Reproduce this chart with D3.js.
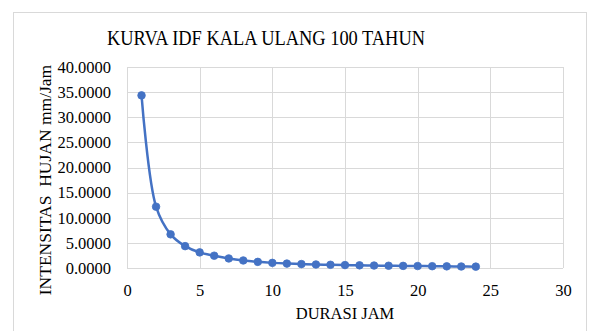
<!DOCTYPE html>
<html>
<head>
<meta charset="utf-8">
<script src="https://cdn.jsdelivr.net/npm/d3@7/dist/d3.min.js"></script>
<style>
  html, body { margin: 0; padding: 0; background: #fff; }
  svg { display: block; }
  text { font-family: "Liberation Serif", "Times New Roman", serif; fill: #000; }
</style>
</head>
<body>
<svg id="chart" width="589" height="331"></svg>
<script>
// Rainfall duration (hours) and intensity (mm/hour), 100-year return period
const durations = [1, 2, 3, 4, 5, 6, 7, 8, 9, 10, 11, 12, 13, 14, 15, 16, 17, 18, 19, 20, 21, 22, 23, 24];
const intensities = [34.35, 12.2, 6.7, 4.35, 3.1, 2.45, 1.9, 1.5, 1.22, 1.02, 0.88, 0.78,
                     0.70, 0.64, 0.58, 0.53, 0.49, 0.45, 0.42, 0.39, 0.36, 0.33, 0.30, 0.27];
const xTicks = [0, 5, 10, 15, 20, 25, 30];
const yTicks = [0, 5, 10, 15, 20, 25, 30, 35, 40];

const chartTitle = "KURVA IDF KALA ULANG 100 TAHUN";
const xTitle = "DURASI JAM";
const yTitle = "INTENSITAS\u00a0 HUJAN mm/Jam";

const serif = '"Liberation Serif", "Times New Roman", serif';
const svg = d3.select("#chart");
const plot = { left: 127, right: 563, top: 67, bottom: 268 };

// outer chart frame
svg.append("rect")
  .attr("x", 13.5).attr("y", 12.5)
  .attr("width", 573).attr("height", 330)
  .attr("fill", "#fff").attr("stroke", "#d9d9d9").attr("stroke-width", 1);

const x = d3.scaleLinear().domain([0, 30]).range([plot.left, plot.right]);
const y = d3.scaleLinear().domain([0, 40]).range([plot.bottom, plot.top]);

// gridlines
const grid = svg.append("g").attr("stroke", "#d9d9d9").attr("stroke-width", 1);
grid.selectAll("line.h").data(yTicks).join("line")
  .attr("x1", plot.left).attr("x2", plot.right)
  .attr("y1", d => Math.round(y(d)) + 0.5).attr("y2", d => Math.round(y(d)) + 0.5);
grid.selectAll("line.v").data(xTicks).join("line")
  .attr("y1", plot.top).attr("y2", plot.bottom)
  .attr("x1", d => Math.round(x(d)) + 0.5).attr("x2", d => Math.round(x(d)) + 0.5);

// axes (tick labels only; lines come from the grid)
const yAxis = d3.axisLeft(y).tickValues(yTicks).tickSize(0).tickPadding(16)
  .tickFormat(d => d3.format(".4f")(d));
svg.append("g").attr("transform", `translate(${plot.left},0)`).call(yAxis)
  .attr("font-family", serif)
  .call(g => g.select(".domain").remove())
  .selectAll("text")
  .style("font-family", serif)
  .style("font-size", "16.5px").attr("fill", "#000");

const xAxis = d3.axisBottom(x).tickValues(xTicks).tickSize(0).tickPadding(16)
  .tickFormat(d3.format("d"));
svg.append("g").attr("transform", `translate(0,${plot.bottom})`).call(xAxis)
  .attr("font-family", serif)
  .call(g => g.select(".domain").remove())
  .selectAll("text")
  .style("font-family", serif)
  .style("font-size", "16.5px").attr("fill", "#000");

// series
const pts = durations.map((d, i) => [d, intensities[i]]);
const line = d3.line().x(d => x(d[0])).y(d => y(d[1])).curve(d3.curveCatmullRom.alpha(0.5));
svg.append("path").datum(pts)
  .attr("d", line).attr("fill", "none")
  .attr("stroke", "#4472c4").attr("stroke-width", 2.5).attr("stroke-linejoin", "round");
svg.append("g").selectAll("circle").data(pts).join("circle")
  .attr("cx", d => x(d[0])).attr("cy", d => y(d[1])).attr("r", 3.8)
  .attr("fill", "#4472c4").attr("stroke", "#4472c4").attr("stroke-width", 0.8);

// titles
svg.append("text").attr("x", 107).attr("y", 45)
  .attr("textLength", 318).attr("lengthAdjust", "spacingAndGlyphs")
  .style("font-size", "21px").text(chartTitle);
svg.append("text").attr("x", (plot.left + plot.right) / 2).attr("y", 319)
  .attr("text-anchor", "middle").style("font-size", "16.5px").text(xTitle);
svg.append("text")
  .attr("transform", `translate(51,180) rotate(-90)`)
  .attr("text-anchor", "middle").style("font-size", "17.5px").text(yTitle);
</script>
</body>
</html>
